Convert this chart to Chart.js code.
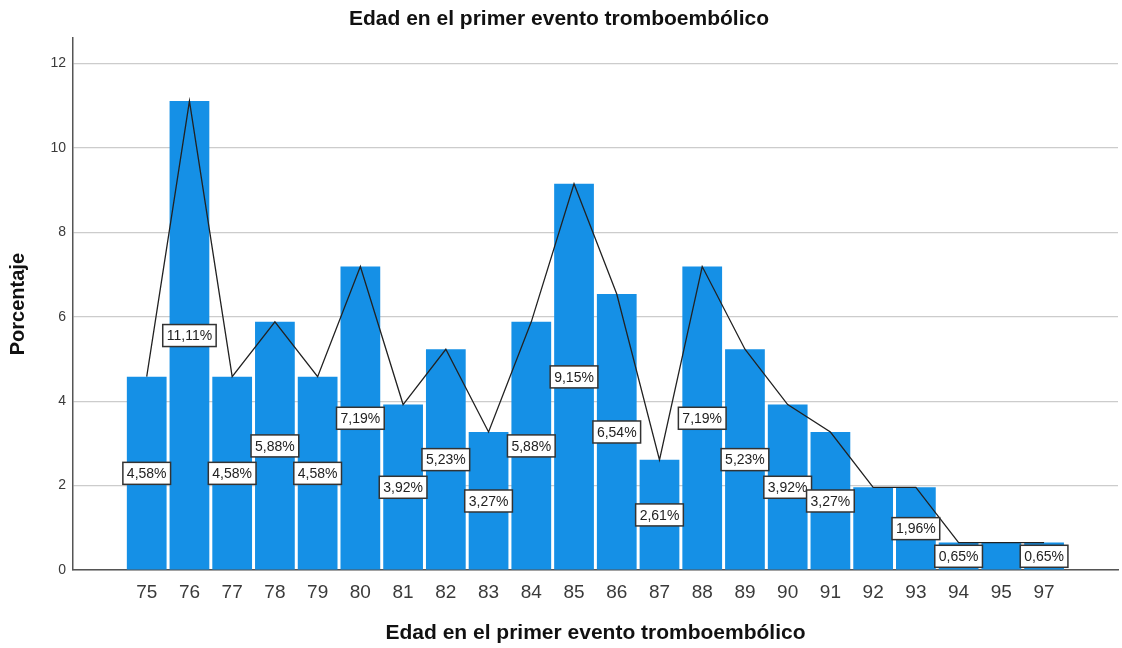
<!DOCTYPE html>
<html>
<head>
<meta charset="utf-8">
<script src="https://cdn.jsdelivr.net/npm/chart.js@4"></script>
<style>
  html, body { margin: 0; padding: 0; background: #fff; }
  #wrap { width: 1122px; height: 648px; }
</style>
</head>
<body>
<div id="wrap"><canvas id="grafico" width="1122" height="648"></canvas></div>
<script>
// edades (categorias del eje x)
var edades = ['75','76','77','78','79','80','81','82','83','84','85','86','87','88','89','90','91','92','93','94','95','97'];
// porcentaje por edad
var porcentajes = [4.58, 11.11, 4.58, 5.88, 4.58, 7.19, 3.92, 5.23, 3.27, 5.88, 9.15, 6.54, 2.61, 7.19, 5.23, 3.92, 3.27, 1.96, 1.96, 0.65, 0.65, 0.65];
// etiquetas visibles (en 92 y 95 no se ven)
var mostrarEtiqueta = [true, true, true, true, true, true, true, true, true, true, true, true, true, true, true, true, true, false, true, true, false, true];
// marcas del eje y
var marcasY = [0, 2, 4, 6, 8, 10, 12];

var fuente = "'Liberation Sans', Arial, sans-serif";

function puntos(){
    var arr = [];
    for (var i = 0; i < porcentajes.length; i++) {
        arr.push({x: i, y: porcentajes[i]});
    }
    return arr;
}

/* etiquetas tipo caja en la mitad de cada barra */
var etiquetasPlugin = {
    id: 'etiquetas',
    afterDatasetsDraw: function(chart){
        var ctx = chart.ctx;
        var xs = chart.scales.x;
        var ys = chart.scales.y;
        ctx.save();
        ctx.font = '14px ' + fuente;
        ctx.textAlign = 'center';
        ctx.textBaseline = 'middle';
        for (var i = 0; i < porcentajes.length; i++) {
            if (!mostrarEtiqueta[i]) continue;
            var txt = porcentajes[i].toFixed(2).replace('.', ',') + '%';
            var cx = xs.getPixelForValue(i);
            var cy = ys.getPixelForValue(porcentajes[i] / 2);
            var w = ctx.measureText(txt).width + 8;
            var h = 22;
            ctx.fillStyle = '#ffffff';
            ctx.fillRect(cx - w / 2, cy - h / 2, w, h);
            ctx.strokeStyle = '#333333';
            ctx.lineWidth = 1.5;
            ctx.strokeRect(cx - w / 2, cy - h / 2, w, h);
            ctx.fillStyle = '#222222';
            ctx.fillText(txt, cx, cy + 1);
        }
        ctx.restore();
    }
};

function dibujar(){
    var ctx = document.getElementById('grafico').getContext('2d');
    var chart = new Chart(ctx, {
        type: 'bar',
        data: {
            datasets: [
                {
                    type: 'line',
                    data: puntos(),
                    borderColor: '#222222',
                    borderWidth: 1.3,
                    pointRadius: 0,
                    fill: false,
                    tension: 0,
                    order: 0
                },
                {
                    type: 'bar',
                    data: puntos(),
                    backgroundColor: '#1590e6',
                    borderWidth: 0,
                    categoryPercentage: 1,
                    barPercentage: 0.93,
                    order: 1
                }
            ]
        },
        options: {
            responsive: false,
            animation: false,
            layout: { padding: { left: 0, right: 4, top: 0, bottom: 0 } },
            plugins: {
                legend: { display: false },
                tooltip: { enabled: false },
                title: {
                    display: true,
                    text: 'Edad en el primer evento tromboembólico',
                    color: '#111',
                    font: { family: fuente, size: 21, weight: 'bold' },
                    padding: { top: 7, bottom: 6 }
                }
            },
            scales: {
                x: {
                    type: 'linear',
                    offset: false,
                    min: -1.725,
                    max: 22.73,
                    afterBuildTicks: function(scale){
                        scale.ticks = edades.map(function(e, i){ return {value: i}; });
                    },
                    afterFit: function(scale){ scale.height = 78; },
                    ticks: {
                        autoSkip: false,
                        maxRotation: 0,
                        padding: 11,
                        color: '#3a3a3a',
                        font: { family: fuente, size: 19 },
                        callback: function(v){ return edades[Math.round(v)]; }
                    },
                    grid: { color: 'rgba(0,0,0,0)', drawTicks: false },
                    border: { color: '#555555', width: 1.5 },
                    title: {
                        display: true,
                        text: 'Edad en el primer evento tromboembólico',
                        color: '#111',
                        font: { family: fuente, size: 21, weight: 'bold' },
                        padding: { top: 0, bottom: 2 }
                    }
                },
                y: {
                    min: 0,
                    max: 12.6,
                    afterBuildTicks: function(scale){
                        scale.ticks = marcasY.map(function(v){ return {value: v}; });
                    },
                    afterFit: function(scale){ scale.width = 73; },
                    ticks: {
                        padding: 7,
                        color: '#3a3a3a',
                        font: { family: fuente, size: 14 }
                    },
                    grid: { color: '#cccccc', lineWidth: 1.2, drawTicks: false },
                    border: { color: '#555555', width: 1.5 },
                    title: {
                        display: true,
                        text: 'Porcentaje',
                        color: '#111',
                        font: { family: fuente, size: 20, weight: 'bold' },
                        padding: { top: 6, bottom: 0 }
                    }
                }
            }
        },
        plugins: [etiquetasPlugin]
    });
}

dibujar();
</script>
</body>
</html>
